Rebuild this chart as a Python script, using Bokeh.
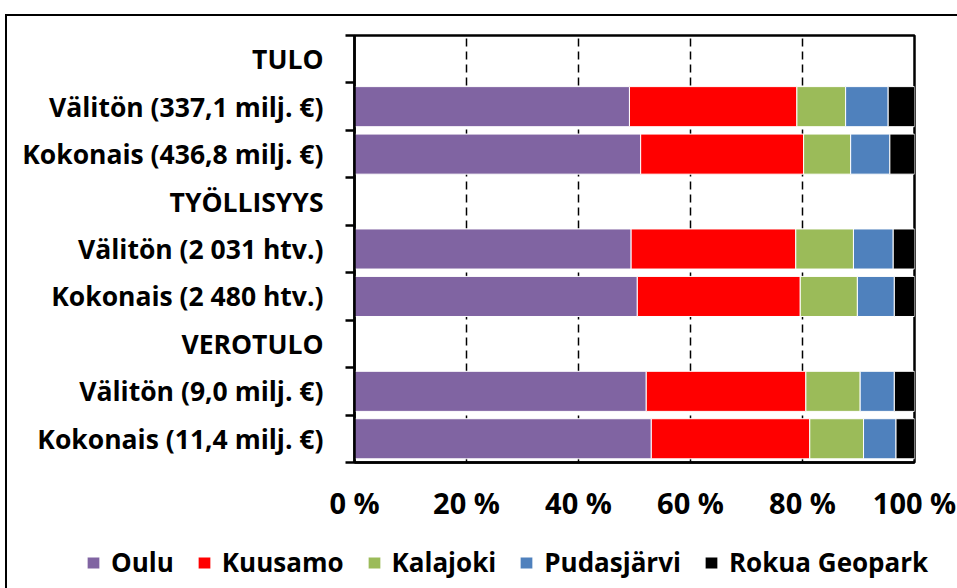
from bokeh.plotting import figure
from bokeh.layouts import column
from bokeh.models import ColumnDataSource, Range1d, FixedTicker, Legend, LegendItem
from bokeh.embed import file_html
from bokeh.resources import INLINE

# ---- data ----
categories = ["TULO", "Välitön (337,1 milj. €)", "Kokonais (436,8 milj. €)",
              "TYÖLLISYYS", "Välitön (2 031 htv.)", "Kokonais (2 480 htv.)",
              "VEROTULO", "Välitön (9,0 milj. €)", "Kokonais (11,4 milj. €)"]
rows = ["Välitön (337,1 milj. €)", "Kokonais (436,8 milj. €)",
        "Välitön (2 031 htv.)", "Kokonais (2 480 htv.)",
        "Välitön (9,0 milj. €)", "Kokonais (11,4 milj. €)"]
series = ["Oulu", "Kuusamo", "Kalajoki", "Pudasjärvi", "Rokua Geopark"]
oulu = [49.1, 51.1, 49.4, 50.5, 52.1, 53.0]
kuusamo = [29.9, 29.1, 29.4, 29.1, 28.5, 28.3]
kalajoki = [8.7, 8.4, 10.3, 10.2, 9.7, 9.6]
pudasjarvi = [7.6, 7.0, 7.1, 6.6, 6.1, 5.8]
rokua = [4.7, 4.4, 3.8, 3.6, 3.6, 3.3]
x_ticks = [0, 20, 40, 60, 80, 100]
x_tick_labels = ["0 %", "20 %", "40 %", "60 %", "80 %", "100 %"]
colors = ["#8064A2", "#FF0000", "#9BBB59", "#4F81BD", "#000000"]

n = len(categories)
def ypos(cat):
    return n - 0.5 - categories.index(cat)

src = ColumnDataSource(dict(
    y=[ypos(r) for r in rows],
    **{series[0]: oulu, series[1]: kuusamo, series[2]: kalajoki,
       series[3]: pudasjarvi, series[4]: rokua}))

FONT = "Open Sans"
W = 950
H_MAIN, H_LEG = 510, 62
BAR_H = 0.845

p = figure(width=W, height=H_MAIN, output_backend="svg", toolbar_location=None,
           x_range=Range1d(0, 100), y_range=Range1d(0, n),
           min_border_left=347, min_border_right=43,
           min_border_top=19, min_border_bottom=64)

p.hbar_stack(series, y="y", height=BAR_H, color=colors,
             line_color="white", line_width=1, source=src)

# frame outline
p.outline_line_color = "black"
p.outline_line_width = 2.5
p.outline_line_alpha = 1

# x axis
p.xaxis.ticker = FixedTicker(ticks=x_ticks)
p.xaxis.major_label_overrides = {t: l for t, l in zip(x_ticks, x_tick_labels)}
p.xaxis.major_tick_line_color = None
p.xaxis.major_tick_out = 0
p.xaxis.minor_tick_line_color = None
p.xaxis.axis_line_width = 2.5
p.xaxis.axis_line_color = "black"
p.xaxis.major_label_standoff = 20
p.xaxis.major_label_text_font = FONT
p.xaxis.major_label_text_font_style = "bold"
p.xaxis.major_label_text_font_size = "29px"
p.xaxis.major_label_text_color = "black"

# y axis
centers = [ypos(c) for c in categories]
p.yaxis.ticker = FixedTicker(ticks=centers, minor_ticks=list(range(n + 1)))
p.yaxis.major_label_overrides = {ypos(c): c for c in categories}
p.yaxis.major_tick_line_color = None
p.yaxis.major_tick_out = 0
p.yaxis.minor_tick_line_color = "black"
p.yaxis.minor_tick_line_width = 2.5
p.yaxis.minor_tick_out = 9
p.yaxis.minor_tick_in = 0
p.yaxis.axis_line_width = 2.5
p.yaxis.axis_line_color = "black"
p.yaxis.major_label_standoff = 22
p.yaxis.major_label_text_font = FONT
p.yaxis.major_label_text_font_style = "bold"
p.yaxis.major_label_text_font_size = "26.5px"
p.yaxis.major_label_text_color = "black"

# grid
p.ygrid.grid_line_color = None
p.xgrid.grid_line_color = "black"
p.xgrid.grid_line_dash = "8 5"
p.xgrid.grid_line_width = 1.5

# ---- legend strip (its own small figure; swatch renderers are hidden) ----
pl = figure(width=W, height=H_LEG, output_backend="svg", toolbar_location=None,
            x_range=Range1d(0, 100), y_range=Range1d(0, n),
            x_axis_location=None, y_axis_location=None,
            min_border_left=0, min_border_right=0,
            min_border_top=0, min_border_bottom=0)
pl.frame_align = False
pl.outline_line_color = None
pl.grid.grid_line_color = None
leg_renderers = pl.hbar_stack(series, y="y", height=BAR_H, color=colors,
                              line_color="white", line_width=1, source=src)
for r in leg_renderers:
    r.visible = False

items = [LegendItem(label=s, renderers=[r]) for s, r in zip(series, leg_renderers)]
legend = Legend(items=items, orientation="horizontal", location=(78, 8))
legend.label_text_font = FONT
legend.label_text_font_style = "bold"
legend.label_text_font_size = "26px"
legend.label_text_color = "black"
legend.glyph_width = 16
legend.glyph_height = 15
legend.label_standoff = 10
legend.spacing = 22
legend.border_line_color = None
legend.background_fill_alpha = 0
legend.padding = 0
legend.margin = 0
pl.add_layout(legend, "center")

layout = column(p, pl, spacing=0)
layout.styles = {"margin-left": "5px", "margin-top": "14px",
                 "border-left": "2px solid black", "border-top": "2px solid black"}

open("out.html", "w").write(file_html(layout, INLINE))
